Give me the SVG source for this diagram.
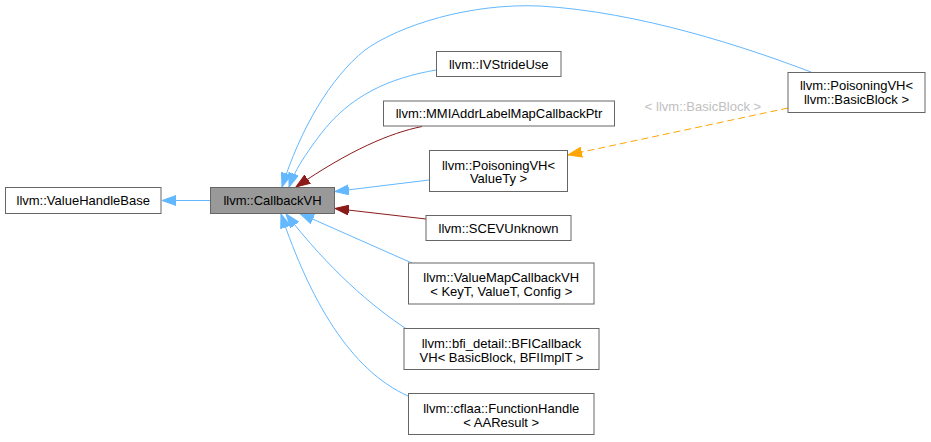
<svg xmlns="http://www.w3.org/2000/svg" width="931" height="442" viewBox="0 0 931 442">
<style>
.node rect{fill:#ffffff;stroke:#666666;stroke-width:1}
.node.hl rect{fill:#999999}
text{font-family:"Liberation Sans",Arial,Helvetica,sans-serif;font-size:13px;fill:#000000;text-anchor:middle}
.lbl{fill:#c0c0c0}
.e{fill:none;stroke-width:1}
.pub{stroke:#63b8ff;marker-end:url(#aBlue)}
.prv{stroke:#8b1a1a;marker-end:url(#aRed)}
.tpl{stroke:#ffa500;stroke-dasharray:7,4;marker-end:url(#aOrange)}
</style>
<defs>
<marker id="aBlue" markerUnits="userSpaceOnUse" markerWidth="15" markerHeight="11" refX="14" refY="5.5" orient="auto"><path d="M0,0.5 L14,5.5 L0,10.5 z" fill="#63b8ff" stroke="#63b8ff"/></marker>
<marker id="aRed" markerUnits="userSpaceOnUse" markerWidth="15" markerHeight="11" refX="14" refY="5.5" orient="auto"><path d="M0,0.5 L14,5.5 L0,10.5 z" fill="#8b1a1a" stroke="#8b1a1a"/></marker>
<marker id="aOrange" markerUnits="userSpaceOnUse" markerWidth="15" markerHeight="11" refX="14" refY="5.5" orient="auto"><path d="M0,0.5 L14,5.5 L0,10.5 z" fill="#ffa500" stroke="#ffa500"/></marker>
</defs>
<rect x="0" y="0" width="931" height="442" fill="#ffffff"/>
<g id="connectors">
<path class="e pub" d="M210,200.5 L162,200.5"/>
<path class="e pub" d="M811,72 C745,47 640,12 540,6 C470,3 400,25 365,50 C330,78 300,130 282,187"/>
<path class="e pub" d="M436,70 C390,78 350,95 320,135 C305,155 295,170 289,187"/>
<path class="e prv" d="M422,126.5 C390,133 350,150 296,187"/>
<path class="e pub" d="M429,180 L335,191.5"/>
<path class="e prv" d="M426,219 L335,208.5"/>
<path class="e pub" d="M413,263.5 L300,213.5"/>
<path class="e pub" d="M408,330 C370,305 330,270 286,214"/>
<path class="e pub" d="M408,396 C350,370 310,300 281,214"/>
<path class="e tpl" d="M788,108 L568,155"/>
<text class="lbl" x="703" y="110.5">&lt; llvm::BasicBlock &gt;</text>
</g>
<g id="ValueHandleBase" class="node"><rect x="5.5" y="187.5" width="155.5" height="26"/><text x="83.25" y="205">llvm::ValueHandleBase</text></g>
<g id="CallbackVH" class="node hl"><rect x="210.5" y="187.5" width="124" height="26"/><text x="272.5" y="205">llvm::CallbackVH</text></g>
<g id="IVStrideUse" class="node"><rect x="436.5" y="51.5" width="124.5" height="25"/><text x="498.75" y="68.5">llvm::IVStrideUse</text></g>
<g id="MMIAddrLabelMapCallbackPtr" class="node"><rect x="383.5" y="101" width="231" height="25"/><text x="499" y="118">llvm::MMIAddrLabelMapCallbackPtr</text></g>
<g id="PoisoningVH_ValueTy" class="node"><rect x="429.5" y="150.5" width="138" height="41"/><text x="498.5" y="169.5">llvm::PoisoningVH&lt;</text><text x="498.5" y="183">ValueTy &gt;</text></g>
<g id="SCEVUnknown" class="node"><rect x="426" y="215.5" width="145" height="25"/><text x="498.5" y="232.5">llvm::SCEVUnknown</text></g>
<g id="ValueMapCallbackVH" class="node"><rect x="408.5" y="263" width="185.5" height="41"/><text x="501.25" y="282">llvm::ValueMapCallbackVH</text><text x="501.25" y="296">&lt; KeyT, ValueT, Config &gt;</text></g>
<g id="BFICallbackVH" class="node"><rect x="404" y="328.5" width="195" height="41"/><text x="501.5" y="347.5">llvm::bfi_detail::BFICallback</text><text x="501.5" y="361.5">VH&lt; BasicBlock, BFIImplT &gt;</text></g>
<g id="FunctionHandle" class="node"><rect x="408.5" y="393.5" width="185.5" height="41"/><text x="501.25" y="412.5">llvm::cflaa::FunctionHandle</text><text x="501.25" y="426.5">&lt; AAResult &gt;</text></g>
<g id="PoisoningVH_BasicBlock" class="node"><rect x="788" y="72.5" width="137" height="40"/><text x="856.5" y="90">llvm::PoisoningVH&lt;</text><text x="856.5" y="104">llvm::BasicBlock &gt;</text></g>
</svg>
